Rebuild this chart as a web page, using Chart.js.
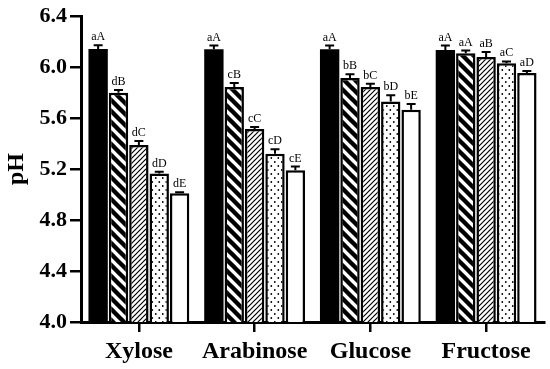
<!DOCTYPE html>
<html lang="en">
<head>
    <meta charset="UTF-8">
    <title>pH</title>
    <style>
        html, body { margin: 0; padding: 0; background: #fff; }
        #wrap { width: 550px; height: 369px; }
    </style>
</head>
<body>
    <div id="wrap">
        <canvas id="myChart"></canvas>
    </div>

    <script src="https://cdn.jsdelivr.net/npm/chart.js"></script>
    <script>
        // categories and values
        const v_labels = ["Xylose", "Arabinose", "Glucose", "Fructose"];

        const v_s1 = [6.142, 6.14, 6.14, 6.135];
        const v_s2 = [5.80, 5.845, 5.915, 6.11];
        const v_s3 = [5.39, 5.515, 5.845, 6.08];
        const v_s4 = [5.165, 5.32, 5.73, 6.03];
        const v_s5 = [5.01, 5.19, 5.665, 5.955];

        const v_e1 = [0.03, 0.03, 0.03, 0.035];
        const v_e2 = [0.02, 0.03, 0.03, 0.02];
        const v_e3 = [0.03, 0.015, 0.025, 0.04];
        const v_e4 = [0.015, 0.035, 0.05, 0.015];
        const v_e5 = [0.008, 0.03, 0.045, 0.015];

        const v_m1 = ["aA", "aA", "aA", "aA"];
        const v_m2 = ["dB", "cB", "bB", "aA"];
        const v_m3 = ["dC", "cC", "bC", "aB"];
        const v_m4 = ["dD", "cD", "bD", "aC"];
        const v_m5 = ["dE", "cE", "bE", "aD"];

        const v_yTicks = [4.0, 4.4, 4.8, 5.2, 5.6, 6.0, 6.4];

        // fill patterns
        function f_tile(w, h, draw) {
            const c = document.createElement("canvas");
            c.width = w;
            c.height = h;
            const g = c.getContext("2d");
            g.fillStyle = "#fff";
            g.fillRect(0, 0, w, h);
            draw(g, w, h);
            return document.createElement("canvas").getContext("2d").createPattern(c, "repeat");
        }

        // thick "\" stripes
        const p_stripe = f_tile(11, 11, function (g, s) {
            g.strokeStyle = "#000";
            g.lineWidth = 4.4;
            g.beginPath();
            for (let c = -s; c <= s; c += s) {
                g.moveTo(c - s, -s);
                g.lineTo(c + 2 * s, 2 * s);
            }
            g.stroke();
        });

        // thin "/" hatch
        const p_hatch = f_tile(5, 5, function (g, s) {
            g.strokeStyle = "#000";
            g.lineWidth = 1.2;
            g.beginPath();
            for (let c = 0; c <= 2 * s; c += s) {
                g.moveTo(c + s, -s);
                g.lineTo(c - 2 * s, 2 * s);
            }
            g.stroke();
        });

        // dots
        const p_dots = f_tile(7, 8, function (g) {
            g.fillStyle = "#000";
            g.beginPath();
            g.arc(1.8, 2, 0.9, 0, Math.PI * 2);
            g.arc(5.3, 6, 0.9, 0, Math.PI * 2);
            g.fill();
        });

        // error bars (upper half) and letters above each bar
        const errPlugin = {
            id: "errPlugin",
            afterDatasetsDraw(chart) {
                const ctx = chart.ctx;
                const yScale = chart.scales.y;
                chart.data.datasets.forEach(function (ds, di) {
                    const meta = chart.getDatasetMeta(di);
                    meta.data.forEach(function (bar, i) {
                        const top = yScale.getPixelForValue(ds.data[i] + ds.err[i]);
                        ctx.save();
                        ctx.strokeStyle = "#000";
                        ctx.lineWidth = 2;
                        ctx.beginPath();
                        ctx.moveTo(bar.x, bar.y);
                        ctx.lineTo(bar.x, top);
                        ctx.moveTo(bar.x - 4.5, top);
                        ctx.lineTo(bar.x + 4.5, top);
                        ctx.stroke();
                        ctx.fillStyle = "#000";
                        ctx.font = '12px "Liberation Serif"';
                        ctx.textAlign = "center";
                        ctx.textBaseline = "alphabetic";
                        ctx.fillText(ds.marks[i], bar.x, top - 5);
                        ctx.restore();
                    });
                });
            }
        };

        function f_ds(name, data, err, marks, fill, bw) {
            return {
                label: name,
                data: data,
                err: err,
                marks: marks,
                backgroundColor: fill,
                borderColor: "#000",
                borderWidth: bw,
                borderSkipped: false,
                categoryPercentage: 0.88,
                barPercentage: 0.95
            };
        }

        const ctx = document.getElementById("myChart");

        new Chart(ctx, {
            type: "bar",
            data: {
                labels: v_labels,
                datasets: [
                    f_ds("1", v_s1, v_e1, v_m1, "#000", 0),
                    f_ds("2", v_s2, v_e2, v_m2, p_stripe, 2.5),
                    f_ds("3", v_s3, v_e3, v_m3, p_hatch, 2.5),
                    f_ds("4", v_s4, v_e4, v_m4, p_dots, 2.5),
                    f_ds("5", v_s5, v_e5, v_m5, "#fff", 2.5)
                ]
            },
            plugins: [errPlugin],
            options: {
                responsive: true,
                maintainAspectRatio: false,
                animation: false,
                layout: {
                    padding: { top: 15, right: 6, bottom: 0, left: 0 }
                },
                plugins: {
                    legend: { display: false },
                    tooltip: { enabled: false }
                },
                scales: {
                    x: {
                        afterFit: function (s) { s.height = 47; },
                        border: { display: true, color: "#000", width: 3 },
                        grid: {
                            offset: false,
                            drawOnChartArea: false,
                            drawTicks: true,
                            tickLength: 10,
                            color: "#000",
                            lineWidth: 2.5
                        },
                        ticks: {
                            color: "#000",
                            padding: 5,
                            maxRotation: 0,
                            font: { family: "Liberation Serif", size: 24, weight: "bold" }
                        }
                    },
                    y: {
                        min: v_yTicks[0],
                        max: v_yTicks[v_yTicks.length - 1],
                        afterFit: function (s) { s.width = 81; },
                        afterBuildTicks: function (s) {
                            s.ticks = v_yTicks.map(function (v) { return { value: v }; });
                        },
                        border: { display: true, color: "#000", width: 3 },
                        grid: {
                            drawOnChartArea: false,
                            drawTicks: true,
                            tickLength: 11,
                            color: "#000",
                            lineWidth: 2.5
                        },
                        ticks: {
                            color: "#000",
                            padding: 3,
                            font: { family: "Liberation Serif", size: 22, weight: "bold" },
                            callback: function (v) { return Number(v).toFixed(1); }
                        },
                        title: {
                            display: true,
                            text: "pH",
                            color: "#000",
                            padding: { top: 2, bottom: 0 },
                            font: { family: "Liberation Serif", size: 24, weight: "bold" }
                        }
                    }
                }
            }
        });
    </script>
</body>
</html>
